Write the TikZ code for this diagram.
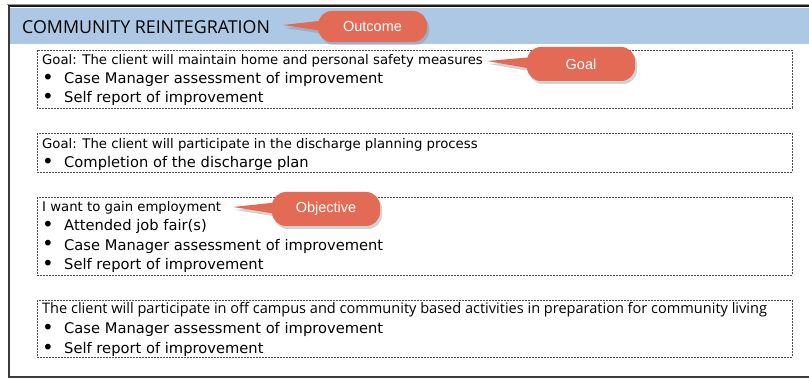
\documentclass[tikz,border=0pt]{standalone}
\usepackage{fontspec}
\setmainfont{DejaVu Sans}
\newfontfamily\titlefont{Open Sans}
\newfontfamily\callfont{Liberation Sans}
\usetikzlibrary{shadows}
\definecolor{hdr}{RGB}{173,200,228}
\definecolor{callred}{RGB}{227,107,86}
\definecolor{frame}{RGB}{60,60,60}
\tikzset{
  firstline/.style={anchor=base west, inner sep=0pt, font=\fontsize{13.25}{15}\selectfont, text=black},
  bulletline/.style={anchor=base west, inner sep=0pt, font=\fontsize{14.7}{16}\selectfont, text=black},
  narrowline/.style={anchor=base west, inner sep=0pt, font=\titlefont\fontsize{14.55}{16}\selectfont, text=black},
  dashbox/.style={draw=black!70, line width=0.8pt, dash pattern=on 2pt off 1pt},
  calltext/.style={inner sep=0pt, font=\callfont\fontsize{14.5}{16}\selectfont, text=white},
  callshape/.style={fill=callred, drop shadow={shadow xshift=2pt, shadow yshift=-3pt, opacity=0.35}},
}
\newcommand\callbox[8]{%
  % #1 L, #2 T, #3 R, #4 B, #5 tipx, #6 tipy, #7 name, #8 text
  \fill[callshape] [rounded corners=14pt] (#1,#2) -- (#1,#4) -- (#3,#4) -- (#3,#2) -- cycle
     [sharp corners] (#5,#6) -- ({#1+12},{#2+0.68*(#4-#2)}) -- ({#1+12},{#2+0.28*(#4-#2)}) -- cycle;
  \node[calltext] (#7) at ({(#1+#3)/2},{(#2+#4)/2}) {#8};
}
\newcommand\bl{\makebox[22pt][l]{\raisebox{-0.3pt}{\scalebox{1.35}{•}}}}
\begin{document}
\begin{tikzpicture}[x=1pt,y=-1pt]
\useasboundingbox (0,0) rectangle (809,379);
\fill[white] (0,0) rectangle (809,379);
% header
\fill[hdr] (10,8) rectangle (809,44);
\draw[black!40, line width=0.6pt] (7,4) -- (809,4);
\draw[black!90, line width=2pt] (8,6.5) -- (809,6.5);
\draw[frame, line width=2.2pt] (9,6) -- (9,377) -- (809,377);
\node[anchor=base west, inner sep=0pt, font=\titlefont\fontsize{17.8}{20}\selectfont] (title) at (22,33.3) {COMMUNITY REINTEGRATION};
% box 1
\draw[dashbox] (37,50) rectangle (792,108);
\node[firstline] (g1) at (42,64.5) {Goal: The client will maintain home and personal safety measures};
\node[bulletline] (g1a) at (42,84) {\bl Case Manager assessment of improvement};
\node[bulletline] (g1b) at (42,103) {\bl Self report of improvement};
% box 2
\draw[dashbox] (37,133) rectangle (792,172);
\node[firstline] (g2) at (42,149) {Goal: The client will participate in the discharge planning process};
\node[bulletline] (g2a) at (42,168) {\bl Completion of the discharge plan};
% box 3
\draw[dashbox] (37,197) rectangle (792,275);
\node[firstline] (o1) at (42,211.5) {I want to gain employment};
\node[bulletline] (o1a) at (42,231) {\bl Attended job fair(s)};
\node[bulletline] (o1b) at (42,250.7) {\bl Case Manager assessment of improvement};
\node[bulletline] (o1c) at (42,270) {\bl Self report of improvement};
% box 4
\draw[dashbox] (37,300) rectangle (792,357);
\node[narrowline] (g3) at (42,314) {The client will participate in off campus and community based activities in preparation for community living};
\node[bulletline] (g3a) at (42,334) {\bl Case Manager assessment of improvement};
\node[bulletline] (g3b) at (42,354) {\bl Self report of improvement};
% callouts
\callbox{318}{11}{427}{42}{283}{25}{outcome}{Outcome}
\callbox{527}{47}{635}{81}{487}{61}{goal}{Goal}
\callbox{272}{192}{380}{226}{233}{207}{objective}{Objective}
\end{tikzpicture}
\end{document}
